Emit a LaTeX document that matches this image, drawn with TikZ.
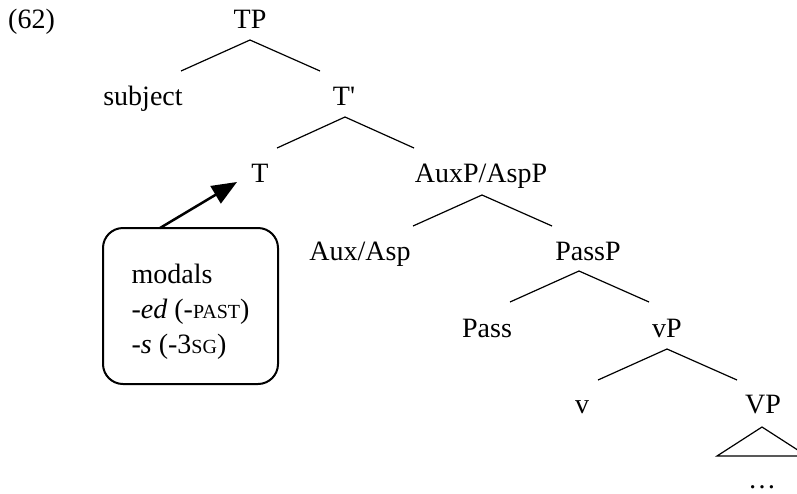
\documentclass[tikz,border=0pt]{standalone}
\usepackage{fontspec}
\setmainfont{Liberation Serif}[Ligatures=TeXOff]
\usetikzlibrary{arrows.meta}
\newcommand\smallcap[1]{{\fontsize{20}{20}\selectfont #1}}
\tikzset{
  lab/.style={anchor=base, inner sep=0pt, font=\fontsize{28}{35}\selectfont},
  branch/.style={line width=1.2pt},
  notebox/.style={draw, line width=2pt, rounded corners=20pt, minimum width=175pt,
    minimum height=156pt, inner sep=0pt, font=\fontsize{28}{35}\selectfont},
  pointer/.style={line width=2.5pt, -{Triangle[length=25pt,width=20pt]}}
}
\begin{document}
\begin{tikzpicture}[x=1pt, y=-1pt]
          \path[use as bounding box, clip] (0,0) rectangle (797,493);
          % labels
          \node [lab, anchor=base west] (ex) at (8,28) {(62)};
          \node [lab] (tp) at (250,28) {TP};
          \node [lab] (subj) at (143,105) {subject};
          \node [lab] (tbar) at (344,105) {T'};
          \node [lab] (t) at (260,182) {T};
          \node [lab] (auxp) at (481,182) {AuxP/AspP};
          \node [lab] (aux) at (360,260) {Aux/Asp};
          \node [lab] (passp) at (588,260) {PassP};
          \node [lab] (pass) at (487,337) {Pass};
          \node [lab] (vp) at (667,337) {vP};
          \node [lab] (v) at (582,413) {v};
          \node [lab] (bigvp) at (763,413) {VP};
          \node [lab] (dots) at (762,488) {\ldots};
          % branch ends
          \coordinate (tp-a) at (250,40);
          \coordinate (tp-l) at (181,71);
          \coordinate (tp-r) at (320,71);
          \coordinate (tbar-a) at (345,117);
          \coordinate (tbar-l) at (277,148);
          \coordinate (tbar-r) at (414,148);
          \coordinate (auxp-a) at (482,195);
          \coordinate (auxp-l) at (413,226);
          \coordinate (auxp-r) at (552,226);
          \coordinate (passp-a) at (579,271);
          \coordinate (passp-l) at (510,302);
          \coordinate (passp-r) at (649,302);
          \coordinate (vp-a) at (667,349);
          \coordinate (vp-l) at (598,380);
          \coordinate (vp-r) at (737,380);
          \coordinate (bigvp-a) at (762,427);
          \coordinate (bigvp-l) at (717,456);
          \coordinate (bigvp-r) at (807,456);
          \draw [branch] (tp-l) -- (tp-a) -- (tp-r);
          \draw [branch] (tbar-l) -- (tbar-a) -- (tbar-r);
          \draw [branch] (auxp-l) -- (auxp-a) -- (auxp-r);
          \draw [branch] (passp-l) -- (passp-a) -- (passp-r);
          \draw [branch] (vp-l) -- (vp-a) -- (vp-r);
          \draw [branch] (bigvp-l) -- (bigvp-a) -- (bigvp-r) -- cycle;
          % the box with the T material
          \node [notebox] (box) at (190.5,306) {\raisebox{-5pt}[\height][\depth]{\begin{tabular}{@{}l@{}}
            modals\\ \textit{-ed} (-\smallcap{PAST})\\ \textit{-s} (-3\smallcap{SG})
          \end{tabular}}};
          \coordinate (box-top) at (160,228);
          \coordinate (t-in) at (237,182);
          \draw [pointer] (box-top) -- (t-in);
        \end{tikzpicture}
\end{document}
